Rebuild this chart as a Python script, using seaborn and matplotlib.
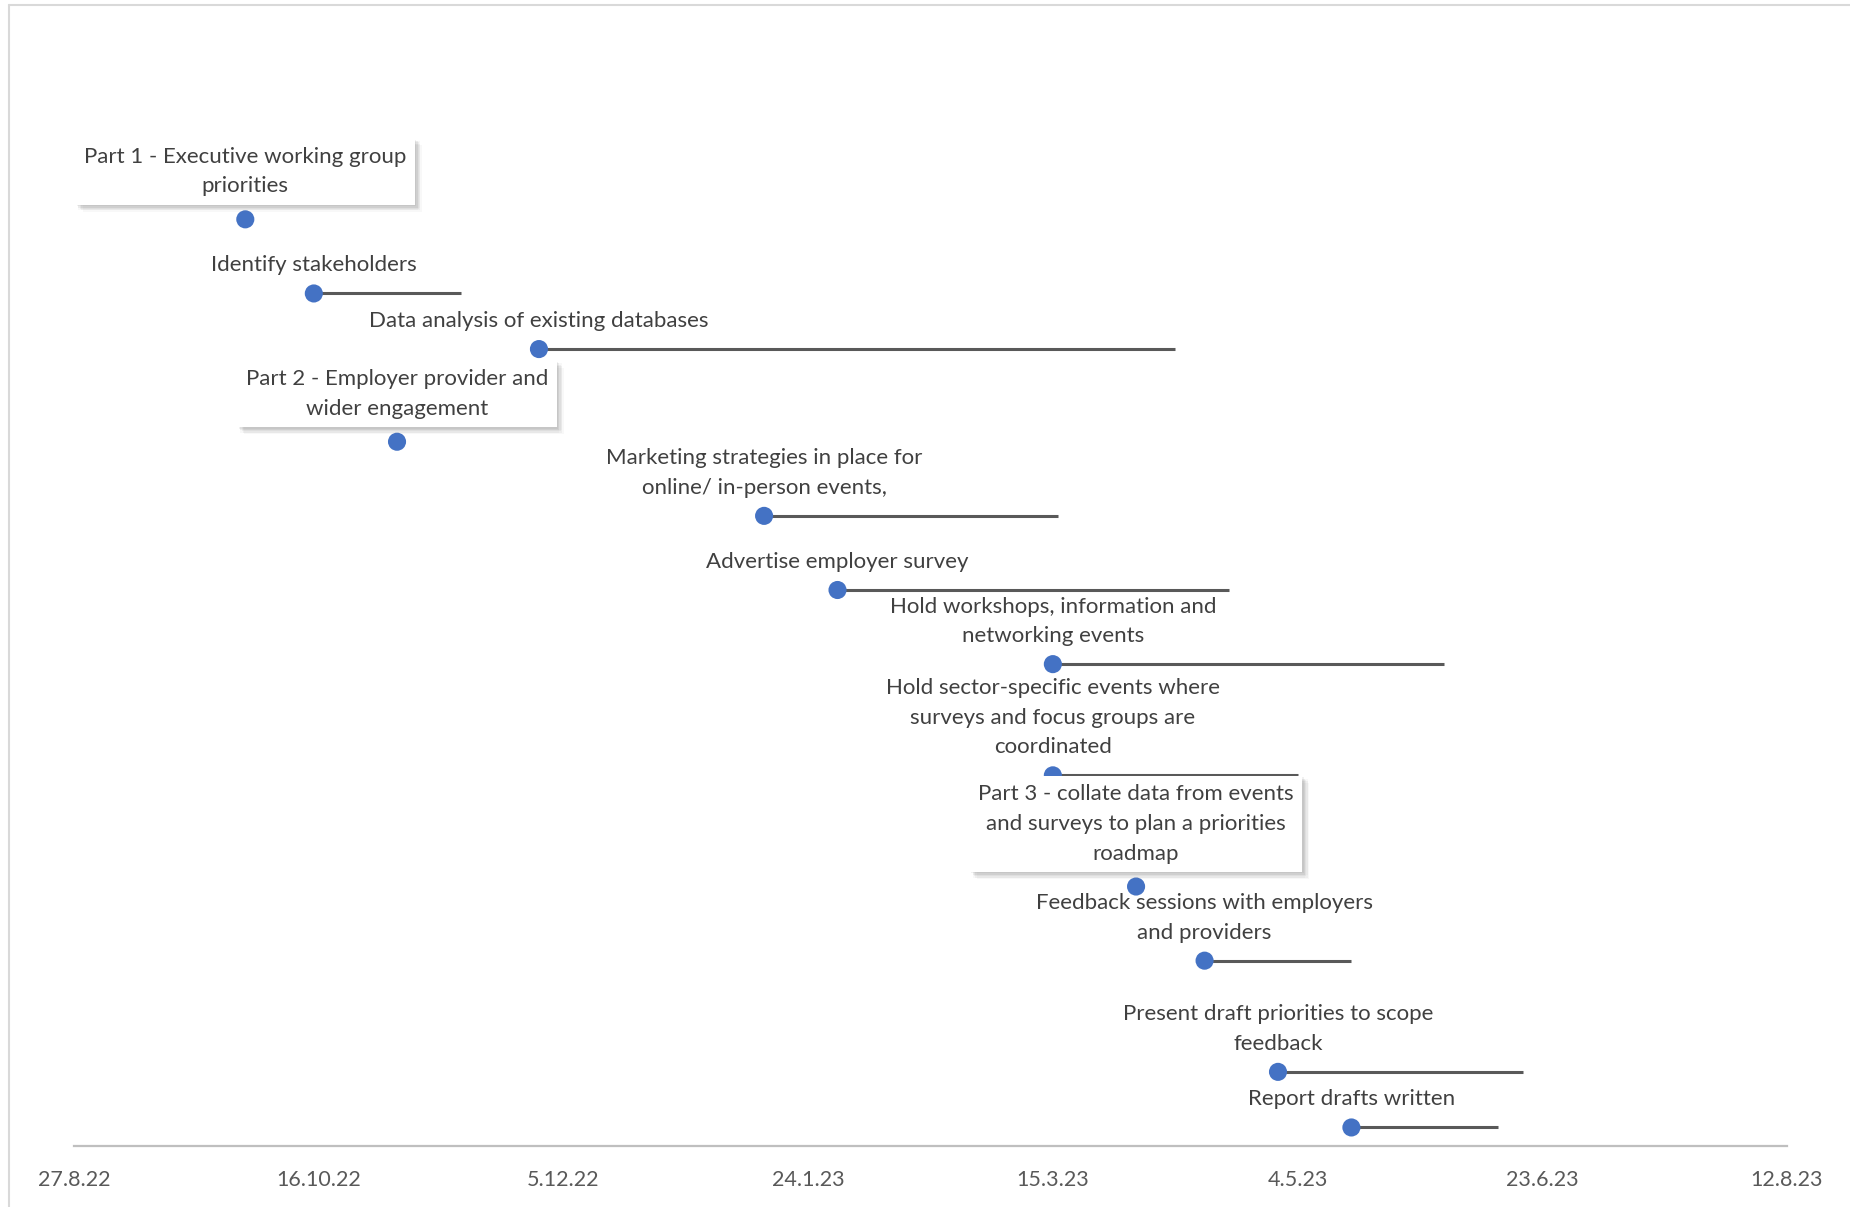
import matplotlib
matplotlib.use("Agg")
import matplotlib.pyplot as plt
import matplotlib.patheffects as pe
from matplotlib.lines import Line2D
import seaborn as sns
import pandas as pd

# Timeline tasks (top to bottom)
task_labels = [
    "Part 1 - Executive working group\npriorities",
    "Identify stakeholders",
    "Data analysis of existing databases",
    "Part 2 - Employer provider and\nwider engagement",
    "Marketing strategies in place for\nonline/ in-person events,",
    "Advertise employer survey",
    "Hold workshops, information and\nnetworking events",
    "Hold sector-specific events where\nsurveys and focus groups are\ncoordinated",
    "Part 3 - collate data from events\nand surveys to plan a priorities\nroadmap",
    "Feedback sessions with employers\nand providers",
    "Present draft priorities to scope\nfeedback",
    "Report drafts written",
]
start_dates = [
    "2022-10-01", "2022-10-15", "2022-11-30", "2022-11-01",
    "2023-01-15", "2023-01-30", "2023-03-15", "2023-03-15",
    "2023-04-01", "2023-04-15", "2023-04-30", "2023-05-15",
]
durations_days = [0, 30, 130, 0, 60, 80, 80, 50, 0, 30, 50, 30]
heights = [50, 46, 43, 38, 34, 30, 26, 20, 14, 10, 4, 1]
is_phase = [True, False, False, True, False, False, False, False, True, False, False, False]

tick_dates = ["2022-08-27", "2022-10-16", "2022-12-05", "2023-01-24",
              "2023-03-15", "2023-05-04", "2023-06-23", "2023-08-12"]
tick_labels = ["27.8.22", "16.10.22", "5.12.22", "24.1.23",
               "15.3.23", "4.5.23", "23.6.23", "12.8.23"]

sns.set_theme(style="white")
plt.rcParams['font.family'] = ['Lato', 'DejaVu Sans']

df = pd.DataFrame({
    "label": task_labels,
    "start": pd.to_datetime(start_dates),
    "duration": durations_days,
    "height": heights,
    "phase": is_phase,
})
df["end"] = df["start"] + pd.to_timedelta(df["duration"], unit="D")
ticks = pd.to_datetime(tick_dates)

W, H = 1850, 1207
fig = plt.figure(figsize=(W / 100, H / 100), dpi=100)
ax = fig.add_axes([74 / W, 61 / H, 1713 / W, 1112 / H])

# duration bars
spans = df[df["duration"] > 0]
ax.hlines(spans["height"], spans["start"], spans["end"], color="#595959", lw=2.2, zorder=2)

# start points
sns.scatterplot(data=df, x="start", y="height", color="#4472C4", s=170,
                edgecolor="none", zorder=3, ax=ax, legend=False)

# soft drop shadow built from stacked translucent offsets
shadow = [pe.withSimplePatchShadow(offset=(dx, -dy), shadow_rgbFace="#7f7f7f", alpha=a)
          for dx, dy, a in [(1, 1, 0.10), (2, 2, 0.10), (3, 3, 0.09), (4, 4, 0.07),
                            (5, 5, 0.05), (2, 4, 0.05), (4, 2, 0.05)]]

label_color = "#404040"
fs = 16
for _, r in df.iterrows():
    if r["phase"]:
        t = ax.annotate(r["label"], (r["start"], r["height"]), xytext=(0, 23),
                        textcoords="offset pixels", ha="center", va="bottom",
                        fontsize=fs, color=label_color, multialignment="center",
                        linespacing=1.6, zorder=4,
                        bbox=dict(boxstyle="square,pad=0.38", fc="white", ec="none"))
        t.get_bbox_patch().set_path_effects(shadow + [pe.Normal()])
    else:
        ax.annotate(r["label"], (r["start"], r["height"]), xytext=(0, 18),
                    textcoords="offset pixels", ha="center", va="bottom",
                    fontsize=fs, color=label_color, multialignment="center",
                    linespacing=1.6, zorder=4)

ax.set_xlim(ticks[0], ticks[-1])
ax.set_ylim(0, 60)
ax.set_xticks(ticks)
ax.set_xticklabels(tick_labels)
ax.set_yticks([])
ax.set_xlabel("")
ax.set_ylabel("")
for s in ["top", "left", "right"]:
    ax.spines[s].set_visible(False)
ax.spines["bottom"].set_color("#BFBFBF")
ax.spines["bottom"].set_linewidth(1.6)
ax.tick_params(axis="x", length=0, pad=17, labelsize=15.5, labelcolor="#595959")
ax.patch.set_alpha(0)

# chart area outline
fig.add_artist(Line2D([9 / W, 9 / W], [0, 1 - 5 / H], transform=fig.transFigure,
                      color="#D9D9D9", lw=1.5))
fig.add_artist(Line2D([9 / W, 1], [1 - 5 / H, 1 - 5 / H], transform=fig.transFigure,
                      color="#D9D9D9", lw=1.5))

fig.savefig("out.png", dpi=100, facecolor="white")
